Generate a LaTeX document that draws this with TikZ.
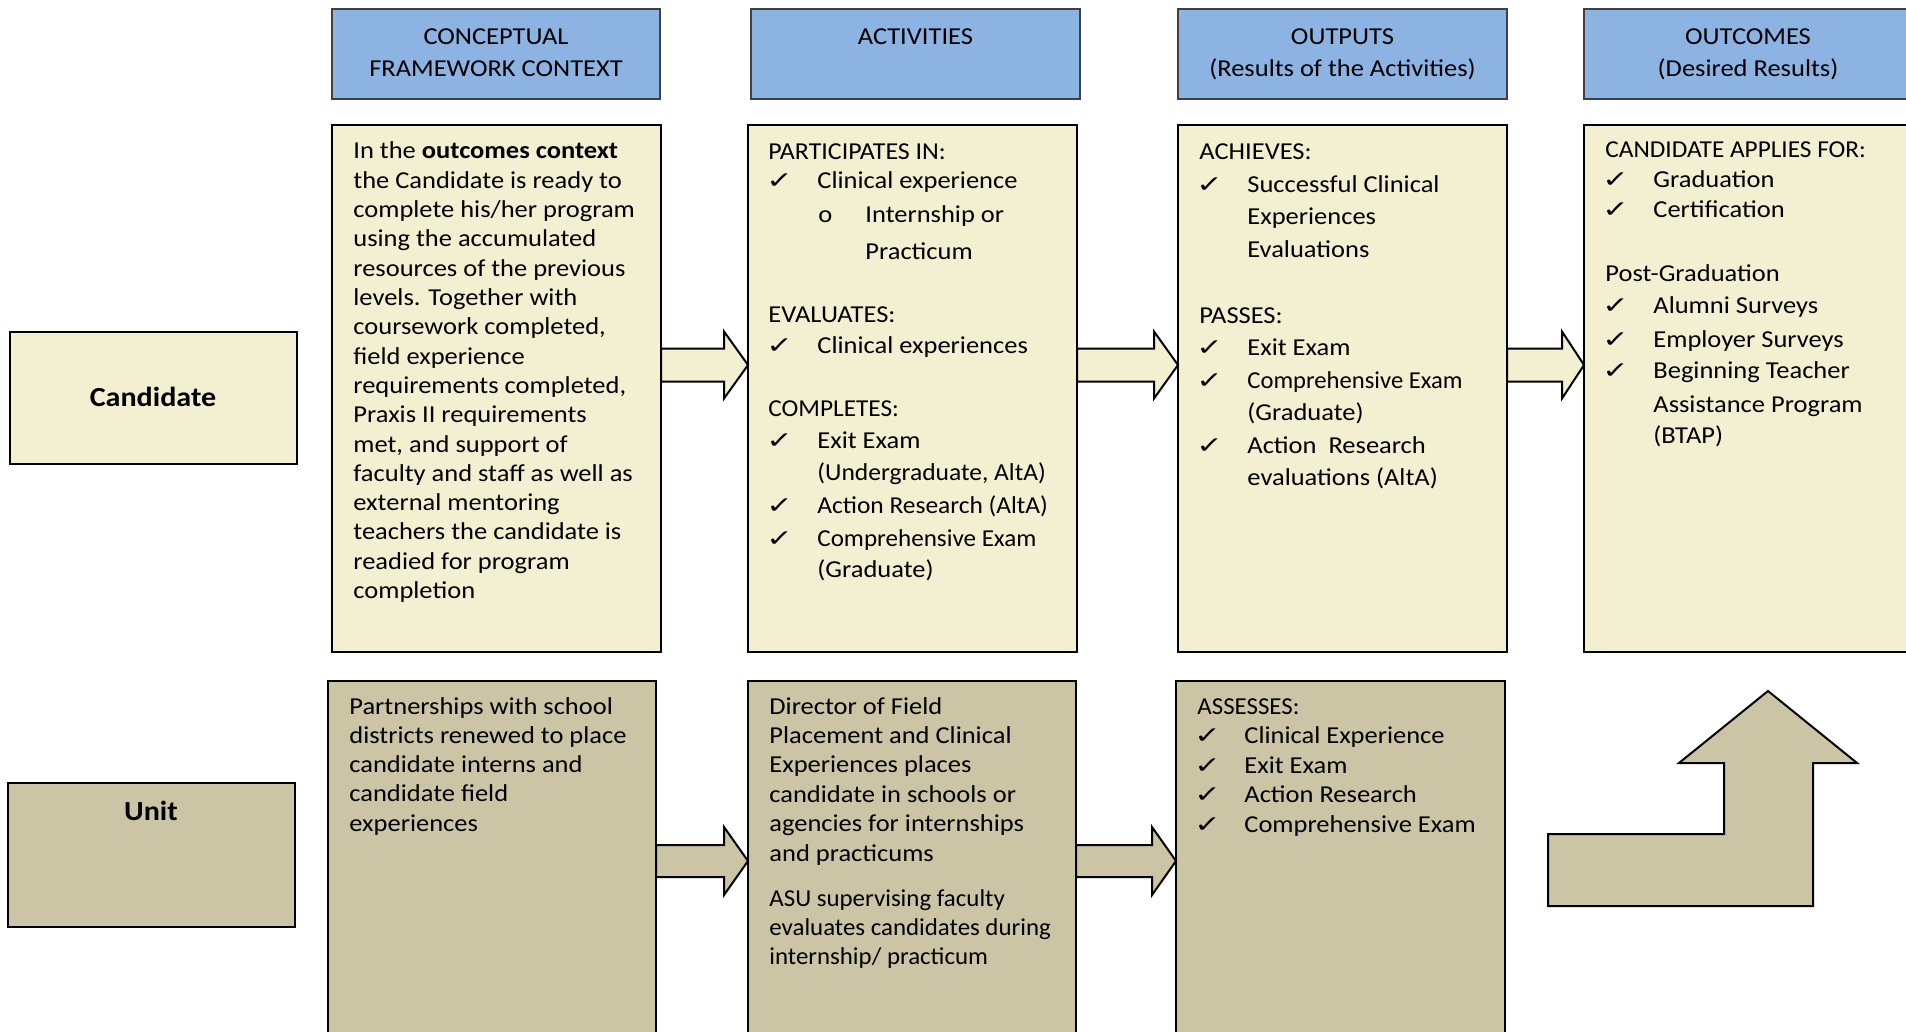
\documentclass[tikz,border=0pt]{standalone}
\usepackage{graphicx}
\usepackage{fontspec}
\setmainfont{Carlito}[FakeStretch=1.09]
\newfontfamily\symfont{DejaVu Sans}
\usetikzlibrary{fit,calc}

\definecolor{hdrblue}{HTML}{8DB3E2}
\definecolor{cream}{HTML}{F3F0D2}
\definecolor{unittan}{HTML}{CBC5A5}

% horizontally condensed run of text
\newcommand\sqz[2]{\scalebox{#1}[1]{#2}}
% check-mark bullet
\newcommand\chk{\scalebox{1.35}[1]{\symfont\fontsize{11.7}{12}\selectfont ✓}}

\tikzset{
  box/.style={draw=black, line width=1pt, inner sep=0pt, outer sep=0pt},
  hdr/.style={box, fill=hdrblue, draw=black!75},
  cbox/.style={box, fill=cream},
  ubox/.style={box, fill=unittan},
  txt/.style={anchor=base west, inner sep=0pt, font=\fontsize{12.15}{14.6}\selectfont},
  ctxt/.style={txt, anchor=base},
  lbl/.style={anchor=base, inner sep=0pt, font=\fontsize{13.8}{16}\selectfont\bfseries},
  tick/.style={anchor=base west, inner sep=0pt},
  blk/.style={draw=black, line width=1pt, line join=miter},
}

% block arrow: style, start, tip, shaft half-width, head half-width, head length
\newcommand\blockarrow[6]{%
  \draw[#1] ($(#2)+(0,-#4)$) -- ($(#3)+(-#6,-#4)$) -- ($(#3)+(-#6,-#5)$) -- (#3)
    -- ($(#3)+(-#6,#5)$) -- ($(#3)+(-#6,#4)$) -- ($(#2)+(0,#4)$) -- cycle;}

\begin{document}
\begin{tikzpicture}[x=0.5pt, y=-0.5pt]
\useasboundingbox (0,0) rectangle (1906,1032);
\clip (0,0) rectangle (1906,1032);

% ---------- column headers ----------
\node[hdr, fit={(332,9) (660,99)}] (h1) {};
\node[hdr, fit={(751,9) (1080,99)}] (h2) {};
\node[hdr, fit={(1178,9) (1507,99)}] (h3) {};
\node[hdr, fit={(1584,9) (1912,99)}] (h4) {};

\node[ctxt] (h1a) at (h1.north |- 0,45) {CONCEPTUAL};
\node[ctxt] (h1b) at (h1.north |- 0,77) {FRAMEWORK CONTEXT};
\node[ctxt] (h2a) at (h2.north |- 0,45) {ACTIVITIES};
\node[ctxt] (h3a) at (h3.north |- 0,45) {OUTPUTS};
\node[ctxt] (h3b) at (h3.north |- 0,77) {(Results of the Activities)};
\node[ctxt] (h4a) at (h4.north |- 0,45) {OUTCOMES};
\node[ctxt] (h4b) at (h4.north |- 0,77) {(Desired Results)};

% ---------- row labels ----------
\node[cbox, fit={(10,332) (297,464)}] (cand) {};
\node[lbl] (candt) at (153,406) {Candidate};
\node[ubox, fit={(8,783) (295,927)}] (unit) {};
\node[lbl] (unitt) at (151,820) {Unit};

% ---------- candidate row ----------
\node[cbox, fit={(332,125) (661,652)}] (c1) {};
\node[cbox, fit={(748,125) (1077,652)}] (c2) {};
\node[cbox, fit={(1178,125) (1507,652)}] (c3) {};
\node[cbox, fit={(1584,125) (1912,652)}] (c4) {};

\foreach \t [count=\i from 0] in {
  In the \textbf{outcomes context},
  the Candidate is ready to,
  complete his/her program,
  using the accumulated,
  resources of the previous,
  levels. Together with,
  {coursework completed,},
  field experience,
  {requirements completed,},
  Praxis II requirements,
  {met, and support of},
  faculty and staff as well as,
  external mentoring,
  teachers the candidate is,
  readied for program,
  completion}
  \node[txt] (c1t\i) at (353,{159+\i*29.3}) {\t};

% activities
\node[txt] (c2a) at (768,160) {\sqz{0.98}{PARTICIPATES IN:}};
\node[tick] (c2k1) at (766,189) {\chk};
\node[txt] (c2b) at (817,189) {Clinical experience};
\node[txt] (c2o) at (818,223) {o};
\node[txt] (c2c) at (865,223) {Internship or};
\node[txt] (c2d) at (865,260) {Practicum};
\node[txt] (c2e) at (768,322) {EVALUATES:};
\node[tick] (c2k2) at (766,353) {\chk};
\node[txt] (c2f) at (817,353) {Clinical experiences};
\node[txt] (c2g) at (768,416) {\sqz{0.955}{COMPLETES:}};
\node[tick] (c2k3) at (766,448) {\chk};
\node[txt] (c2h) at (817,448) {Exit Exam};
\node[txt] (c2i) at (817,480) {\sqz{0.964}{(Undergraduate, AltA)}};
\node[tick] (c2k4) at (766,513) {\chk};
\node[txt] (c2j) at (817,513) {\sqz{0.96}{Action Research (AltA)}};
\node[tick] (c2k5) at (766,546) {\chk};
\node[txt] (c2k) at (817,546) {\sqz{0.947}{Comprehensive Exam}};
\node[txt] (c2l) at (817,577) {(Graduate)};

% outputs
\node[txt] (c3a) at (1199,160) {ACHIEVES:};
\node[tick] (c3k1) at (1196,193) {\chk};
\node[txt] (c3b) at (1247,193) {Successful Clinical};
\node[txt] (c3c) at (1247,225) {Experiences};
\node[txt] (c3d) at (1247,257) {Evaluations};
\node[txt] (c3e) at (1199,323) {PASSES:};
\node[tick] (c3k2) at (1196,355) {\chk};
\node[txt] (c3f) at (1247,355) {Exit Exam};
\node[tick] (c3k3) at (1196,388) {\chk};
\node[txt] (c3g) at (1247,388) {\sqz{0.93}{Comprehensive Exam}};
\node[txt] (c3h) at (1247,420) {(Graduate)};
\node[tick] (c3k4) at (1196,453) {\chk};
\node[txt] (c3i) at (1247,453) {Action\ \ Research};
\node[txt] (c3j) at (1247,485) {evaluations (AltA)};

% outcomes
\node[txt] (c4a) at (1605,158) {\sqz{0.955}{CANDIDATE APPLIES FOR:}};
\node[tick] (c4k1) at (1602,188) {\chk};
\node[txt] (c4b) at (1653,188) {Graduation};
\node[tick] (c4k2) at (1602,218) {\chk};
\node[txt] (c4c) at (1653,218) {Certification};
\node[txt] (c4d) at (1605,282) {Post-Graduation};
\node[tick] (c4k3) at (1602,314) {\chk};
\node[txt] (c4e) at (1653,314) {Alumni Surveys};
\node[tick] (c4k4) at (1602,347) {\chk};
\node[txt] (c4f) at (1653,347) {Employer Surveys};
\node[tick] (c4k5) at (1602,379) {\chk};
\node[txt] (c4g) at (1653,379) {Beginning Teacher};
\node[txt] (c4h) at (1653,412) {Assistance Program};
\node[txt] (c4i) at (1653,443) {(BTAP)};

% ---------- unit row ----------
\node[ubox, fit={(328,681) (656,1045)}] (u1) {};
\node[ubox, fit={(748,681) (1076,1045)}] (u2) {};
\node[ubox, fit={(1176,681) (1505,1045)}] (u3) {};

\foreach \t [count=\i from 0] in {
  Partnerships with school,
  districts renewed to place,
  candidate interns and,
  candidate field,
  experiences}
  \node[txt] (u1t\i) at (349,{714+\i*29.3}) {\t};

\foreach \t [count=\i from 0] in {
  Director of Field,
  Placement and Clinical,
  Experiences places,
  candidate in schools or,
  agencies for internships,
  and practicums}
  \node[txt] (u2t\i) at (769,{714+\i*29.4}) {\t};
\foreach \t [count=\i from 0] in {
  ASU supervising faculty,
  evaluates candidates during,
  internship/ practicum}
  \node[txt] (u2s\i) at (769,{906+\i*29.4}) {\sqz{0.94}{\t}};

\node[txt] (u3a) at (1197,714) {\sqz{0.94}{ASSESSES:}};
\node[tick] (u3k1) at (1194,743) {\chk};
\node[txt] (u3b) at (1244,743) {Clinical Experience};
\node[tick] (u3k2) at (1194,773) {\chk};
\node[txt] (u3c) at (1244,773) {Exit Exam};
\node[tick] (u3k3) at (1194,802) {\chk};
\node[txt] (u3d) at (1244,802) {Action Research};
\node[tick] (u3k4) at (1194,832) {\chk};
\node[txt] (u3e) at (1244,832) {Comprehensive Exam};

% ---------- block arrows between boxes ----------
\coordinate (a1s) at (c1.east |- 0,365);
\coordinate (a1t) at (c2.west |- 0,365);
\coordinate (a2s) at (c2.east |- 0,365);
\coordinate (a2t) at (c3.west |- 0,365);
\coordinate (a3s) at (c3.east |- 0,365);
\coordinate (a3t) at (c4.west |- 0,365);
\blockarrow{blk, fill=cream}{a1s}{a1t}{16.5}{33.5}{24}
\blockarrow{blk, fill=cream}{a2s}{a2t}{16.5}{33.5}{24}
\blockarrow{blk, fill=cream}{a3s}{a3t}{16.5}{33.5}{22}

\coordinate (b1s) at (u1.east |- 0,861);
\coordinate (b1t) at (u2.west |- 0,861);
\coordinate (b2s) at (u2.east |- 0,861);
\coordinate (b2t) at (u3.west |- 0,861);
\blockarrow{blk, fill=unittan}{b1s}{b1t}{16}{34}{24}
\blockarrow{blk, fill=unittan}{b2s}{b2t}{16}{34}{24}

% ---------- bent up-arrow ----------
\draw[blk, fill=unittan] (1548,834) -- (1724,834) -- (1724,763) -- (1679,763)
  -- (1768,691) -- (1857,763) -- (1813,763) -- (1813,906) -- (1548,906) -- cycle;
\end{tikzpicture}
\end{document}
